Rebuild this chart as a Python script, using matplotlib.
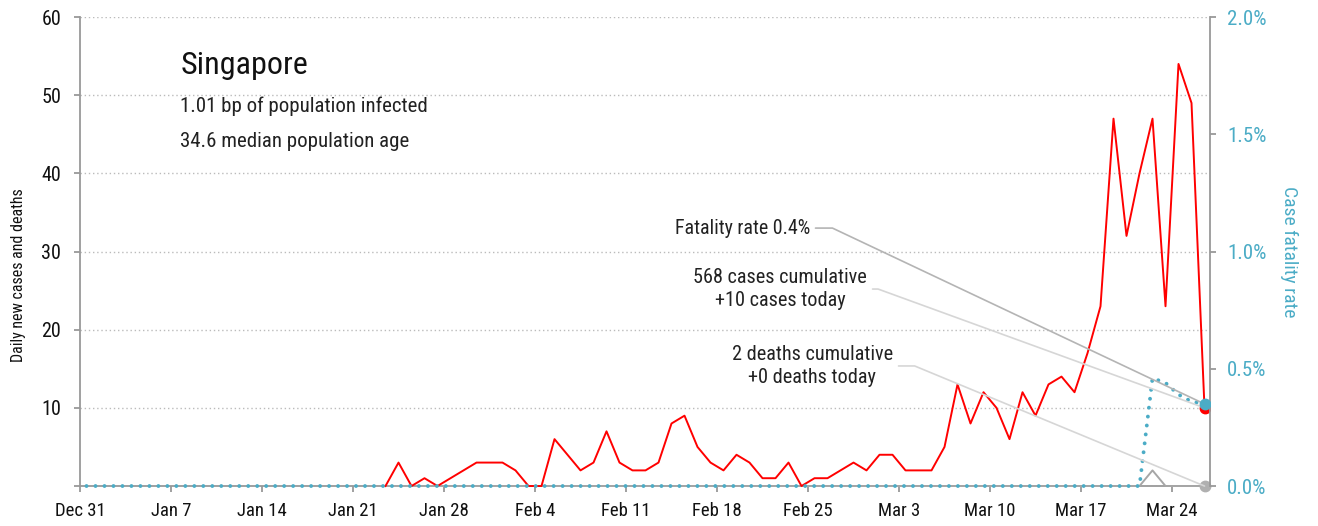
#!/usr/bin/env python3
"""Singapore daily cases / deaths with case fatality rate."""

import matplotlib
matplotlib.use("Agg")
import matplotlib.pyplot as plt
import matplotlib.dates as mdates
from matplotlib import font_manager
from matplotlib.ticker import FuncFormatter, MultipleLocator
import pandas as pd

available = {f.name for f in font_manager.fontManager.ttflist}
FONT = next(n for n in ["Roboto Condensed", "Archivo Narrow", "Barlow Semi Condensed",
                        "Asap Condensed", "DejaVu Sans"] if n in available)
plt.rcParams["font.family"] = [FONT, "DejaVu Sans"]

# ---- data --------------------------------------------------------------
country = "Singapore"
subtitle_lines = ["1.01 bp of population infected", "34.6 median population age"]

first_case_day = "2020-01-23"
daily_cases = [
    0, 3, 0, 1, 0, 1, 2, 3, 3,            # Jan 23 - Jan 31
    3, 2, 0, 0, 6, 4, 2, 3, 7, 3, 2, 2,   # Feb 1 - Feb 12
    3, 8, 9, 5, 3, 2, 4, 3, 1, 1, 3, 0,   # Feb 13 - Feb 24
    1, 1, 2, 3, 2,                        # Feb 25 - Feb 29
    4, 4, 2, 2, 2, 5, 13, 8, 12, 10, 6,   # Mar 1 - Mar 11
    12, 9, 13, 14, 12, 17, 23, 47, 32,    # Mar 12 - Mar 20
    40, 47, 23, 54, 49, 10,               # Mar 21 - Mar 26
]
daily_deaths = [0] * 59 + [2, 0, 0, 0, 0]   # Jan 23 - Mar 26, 2 deaths on Mar 22

fatality_rate = [0.0] * 82 + [0.0046, 0.0044, 0.0039, 0.0036, 0.0035]  # Dec 31 - Mar 26

cum_cases, cases_today = 568, 10
cum_deaths, deaths_today = 2, 0
cfr_label = 0.4

RED = "#ff0000"
BLUE = "#4bacc6"
GREY = "#a6a6a6"
SPINE = "#999999"

start = pd.Timestamp("2019-12-31")
half_day = pd.Timedelta(hours=12)
cfr_x = mdates.date2num(pd.date_range(start, periods=len(fatality_rate), freq="D") + half_day)
case_x = mdates.date2num(pd.date_range(first_case_day, periods=len(daily_cases), freq="D") + half_day)

fig = plt.figure(figsize=(13.18, 5.26), dpi=100)
ax = fig.add_axes([0.0607, 0.076, 0.8573, 0.8916])
ax2 = ax.twinx()

ax.plot(case_x, daily_deaths, color=GREY, lw=1.4, zorder=3, clip_on=False)
ax.plot(case_x, daily_cases, color=RED, lw=1.4, zorder=4, clip_on=False)
ax.plot(case_x[-1], daily_cases[-1], "o", color=RED, ms=7.5, zorder=5)
ax.plot(case_x[-1], daily_deaths[-1], "o", color="#b0b0b0", ms=7.5, zorder=5, clip_on=False)

ax2.plot(cfr_x, fatality_rate, color=BLUE, lw=2.8, clip_on=False,
         linestyle=(0, (0.01, 2.3)), dash_capstyle="round", zorder=3)
ax2.plot(cfr_x[-1], fatality_rate[-1], "o", color=BLUE, ms=7.5, zorder=5)

# ---- axes styling ---------------------------------------------------------
ax.set_xlim(mdates.date2num(start), mdates.date2num(pd.Timestamp("2020-03-26 22:00")))
ax.set_ylim(0, 60)
ax2.set_ylim(0, 0.02)

ticks = pd.date_range(start, "2020-03-24", freq="7D")
ax.set_xticks(mdates.date2num(ticks))
ax.set_xticklabels([f"{d:%b} {d.day}" for d in ticks])

ax.yaxis.set_major_locator(MultipleLocator(10))
ax.yaxis.set_major_formatter(FuncFormatter(lambda v, _: "" if v == 0 else f"{v:.0f}"))
ax2.yaxis.set_major_locator(MultipleLocator(0.005))
ax2.yaxis.set_major_formatter(FuncFormatter(lambda v, _: f"{v * 100:.1f}%"))

ax.yaxis.grid(True, linestyle=(0, (1, 2)), color="#bbbbbb", lw=1)
ax.set_axisbelow(True)

for s in ["top", "right"]:
    ax.spines[s].set_visible(False)
for s in ["top", "left", "bottom"]:
    ax2.spines[s].set_visible(False)
for sp in [ax.spines["left"], ax.spines["bottom"], ax2.spines["right"]]:
    sp.set_color(SPINE)
    sp.set_linewidth(1.3)

ax.tick_params(axis="both", direction="out", length=4.5, width=1.3, color=SPINE,
               labelcolor="#111111")
ax.tick_params(axis="x", pad=7, labelsize=13.5)
ax.tick_params(axis="y", pad=9, labelsize=14.5)
ax2.tick_params(axis="y", direction="out", length=4.5, width=1.3, color=SPINE,
                labelsize=15, labelcolor=BLUE, pad=8)

ax.set_ylabel("Daily new cases and deaths", fontsize=11.5, color="#111111")
ax.yaxis.set_label_coords(-0.048, 0.45)
ax2.set_ylabel("Case fatality rate", fontsize=14, color=BLUE, rotation=270, va="center")
ax2.yaxis.set_label_coords(1.070, 0.50)

# ---- text block -----------------------------------------------------------
ax.text(0.0894, 0.878, country, transform=ax.transAxes, fontsize=23, color="#111111")
ax.text(0.0885, 0.797, subtitle_lines[0], transform=ax.transAxes, fontsize=15, color="#222222")
ax.text(0.0885, 0.722, subtitle_lines[1], transform=ax.transAxes, fontsize=15, color="#222222")

# ---- call-outs -----------------------------------------------------------
ax2.annotate(f"Fatality rate {cfr_label}%", xy=(cfr_x[-1], fatality_rate[-1]),
             xytext=(0.646, 0.550), textcoords="axes fraction", ha="right", va="center",
             fontsize=14.3, color="#222222",
             arrowprops=dict(arrowstyle="-", color="#b4b4b4", lw=1.2, relpos=(1, 0.5),
                             shrinkB=0, connectionstyle="angle,angleA=0,angleB=-25.3,rad=0"))
ax2.annotate(f"{cum_cases} cases cumulative\n+{cases_today} cases today",
             xy=(case_x[-1], daily_cases[-1]), xycoords=ax.transData,
             xytext=(0.6965, 0.420), textcoords=ax.transAxes, ha="right", va="center",
             multialignment="center", fontsize=14.6, color="#222222", linespacing=1.25,
             arrowprops=dict(arrowstyle="-", color="#d6d6d6", lw=1.2, relpos=(1, 0.5),
                             shrinkB=0, connectionstyle="angle,angleA=0,angleB=-20,rad=0"))
ax2.annotate(f"{cum_deaths} deaths cumulative\n+{deaths_today} deaths today",
             xy=(case_x[-1], daily_deaths[-1]), xycoords=ax.transData,
             xytext=(0.7195, 0.256), textcoords=ax.transAxes, ha="right", va="center",
             multialignment="center", fontsize=14.6, color="#222222", linespacing=1.25,
             arrowprops=dict(arrowstyle="-", color="#d6d6d6", lw=1.2, relpos=(1, 0.5),
                             shrinkB=0, connectionstyle="angle,angleA=0,angleB=-22.5,rad=0"))

fig.savefig("out.png", dpi=100)
